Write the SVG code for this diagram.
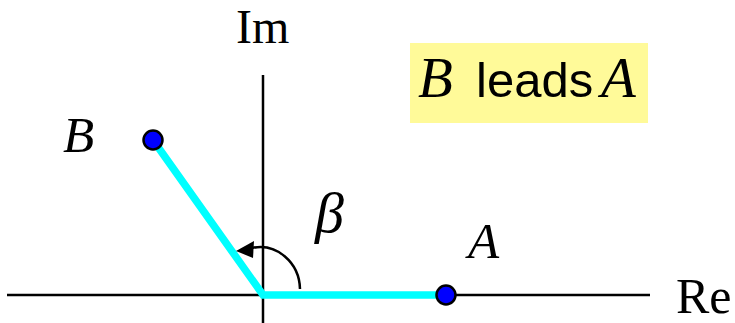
<svg xmlns="http://www.w3.org/2000/svg" width="735" height="323" viewBox="0 0 735 323">
<style>
.axis{stroke:#000;stroke-width:2.5;fill:none}
.vec{stroke:#00FFFF;stroke-width:7.5;fill:none;stroke-linejoin:miter}
.dot{fill:#0000FF;stroke:#000;stroke-width:2.5}
.serif{font-family:"Liberation Serif","Times New Roman",serif;fill:#000}
.it{font-style:italic}
.sans{font-family:"Liberation Sans",Arial,sans-serif;fill:#000}
</style>
<rect width="735" height="323" fill="#fff"/>
<g id="axes">
<line class="axis" x1="7" y1="295" x2="650" y2="295"/>
<line class="axis" x1="263" y1="75" x2="263" y2="323"/>
<text class="serif" x="236" y="43" font-size="48">Im</text>
<text class="serif" x="676" y="313" font-size="50">Re</text>
</g>
<g id="connectors">
<polyline class="vec" points="153,140 263,295 446,295"/>
<path d="M 300 289 A 40 43 0 0 0 252 248" stroke="#000" stroke-width="2.5" fill="none"/>
<polygon points="236,251 254,241 253,258" fill="#000"/>
</g>
<g id="nodeB">
<circle class="dot" cx="153" cy="140" r="9.5"/>
<text class="serif it" x="63" y="152" font-size="51">B</text>
</g>
<g id="nodeA">
<circle class="dot" cx="446" cy="295" r="9.5"/>
<text class="serif it" x="468" y="258" font-size="51">A</text>
</g>
<g id="angle">
<text class="serif it" x="315" y="232" font-size="58">β</text>
</g>
<g id="label">
<rect x="410" y="43" width="238" height="80" fill="#FFFA99"/>
<text class="serif it" x="418" y="97" font-size="57">B</text>
<text class="sans" x="476" y="97" font-size="49">leads</text>
<text class="serif it" x="601" y="97" font-size="57">A</text>
</g>
</svg>
